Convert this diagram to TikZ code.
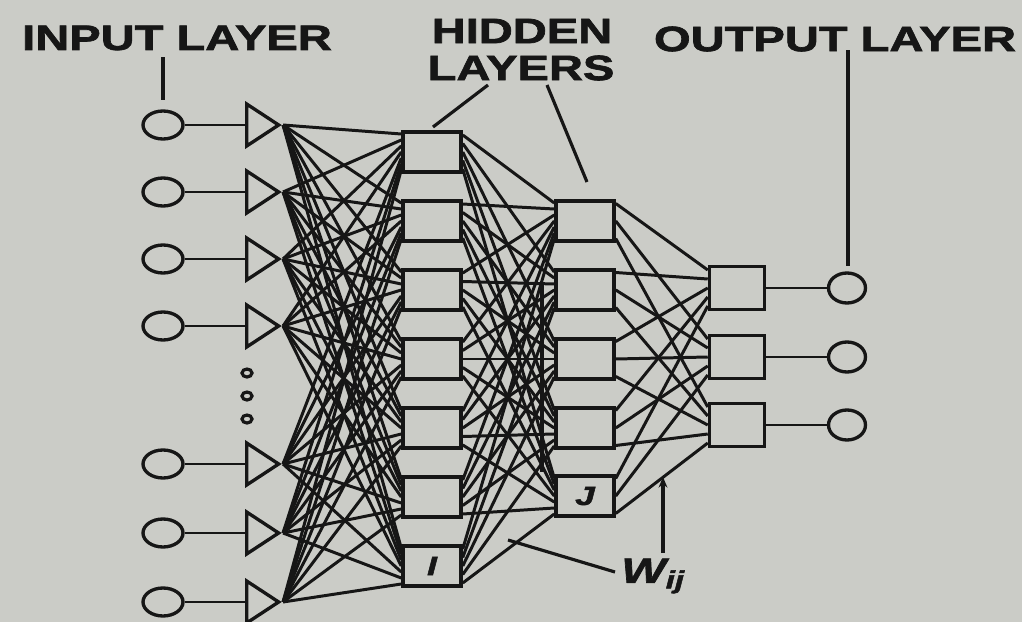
\documentclass[tikz,border=0pt]{standalone}
\usepackage{fontspec}
\newfontfamily\lblfont[FakeStretch=1.34,FakeBold=2]{Liberation Sans}
\usetikzlibrary{shapes.geometric,arrows.meta}
\definecolor{paper}{RGB}{203,204,199}
\definecolor{ink}{RGB}{22,22,22}

\begin{document}
\begin{tikzpicture}[x=0.02cm, y=-0.02cm,
  every node/.style={font=\lblfont\bfseries\fontsize{20}{22}\selectfont, text=ink},
  inunit/.style={draw=ink, line width=1.9pt, ellipse, fill=paper, inner sep=0pt, minimum width=0.8cm, minimum height=0.56cm},
  amp/.style={draw=ink, line width=1.9pt, isosceles triangle, isosceles triangle stretches, shape border rotate=0, inner sep=0pt, minimum width=0.84cm, minimum height=0.64cm, anchor=lower side},
  unit/.style={draw=ink, line width=2pt, fill=paper, inner sep=0pt, minimum width=1.16cm, minimum height=0.8cm},
  tinydot/.style={draw=ink, line width=1.8pt, ellipse, inner sep=0pt, minimum width=0.2cm, minimum height=0.16cm},
  wire/.style={draw=ink, line width=1.7pt},
  pointer/.style={draw=ink, line width=1.8pt}]
  \fill[paper] (0,0) rectangle (1022,622);
  \useasboundingbox (0,0) rectangle (1022,622);

  % input layer
  \foreach \y [count=\i] in {125,192,259,326,464,533,602} {
    \node[inunit] (in\i) at (163,\y) {};
    \node[amp] (amp\i) at (245,\y) {};
    \draw[wire] (in\i.east) -- (amp\i.lower side);
  }
  \foreach \y [count=\d] in {373,396,419}
    \node[tinydot] (dot\d) at (247,\y) {};

  % hidden layers
  \foreach \y [count=\i] in {152,221,290,359,428,497,566}
    \node[unit] (ha\i) at (432,\y) {};
  \foreach \y [count=\j] in {221,290,359,428,496}
    \node[unit] (hb\j) at (585,\y) {};

  % output layer
  \foreach \y [count=\k] in {288,357,425} {
    \node[unit, minimum width=1.1cm, minimum height=0.86cm] (oc\k) at (737,\y) {};
    \node[inunit, minimum width=0.74cm, minimum height=0.6cm] (out\k) at (847,\y) {};
    \draw[wire] (oc\k) -- (out\k);
  }

  % weights
  \foreach \i in {1,...,7}
    \foreach \j in {1,...,7}
      \draw[wire] (amp\i.apex) -- ([yshift={(4-\i)*0.12cm}]ha\j.west);
  \foreach \i in {1,...,7}
    \foreach \j in {1,...,5}
      \draw[wire] ([yshift={(3-\j)*0.17cm}]ha\i.east) -- ([yshift={(4-\i)*0.12cm}]hb\j.west);
  \foreach \j in {1,...,5}
    \foreach \k in {1,2,3}
      \draw[wire] ([yshift={(2-\k)*0.35cm}]hb\j.east) -- ([yshift={(3-\j)*0.18cm}]oc\k.west);

  \node[font=\lblfont\bfseries\itshape\fontsize{15}{16}\selectfont] (ilbl) at (ha7) {I};
  \node[font=\lblfont\bfseries\itshape\fontsize{15}{16}\selectfont] (jlbl) at (hb5) {J};
  \draw[line width=2.6pt, draw=ink] (542,283) -- (542,472);

  % labels
  \node (inlbl) at (177,38) {INPUT LAYER};
  \node (hidlbl) at (522,31) {HIDDEN};
  \node (laylbl) at (521,68) {LAYERS};
  \node (outlbl) at (835,39) {OUTPUT LAYER};
  \node[anchor=west, inner sep=0pt] (wlbl) at (621,576) {\itshape W\textsubscript{\itshape ij}};

  \coordinate (inptr) at (163,100);
  \coordinate (hapl) at (433,127);
  \coordinate (hbpl) at (587,182);
  \coordinate (outptr) at (848,266);
  \coordinate (wa) at (508,540);
  \coordinate (wb) at (663,477);
  \draw[pointer] (163,57) -- (inptr);
  \draw[pointer] (488,85) -- (hapl);
  \draw[pointer] (547,85) -- (hbpl);
  \draw[pointer] (848,50) -- (outptr);
  \draw[pointer] (wlbl.west) ++(-6,-4) -- (wa);
  \draw[pointer, -{Stealth[length=6pt,width=5pt]}] (663,553) -- (wb);
\end{tikzpicture}
\end{document}
